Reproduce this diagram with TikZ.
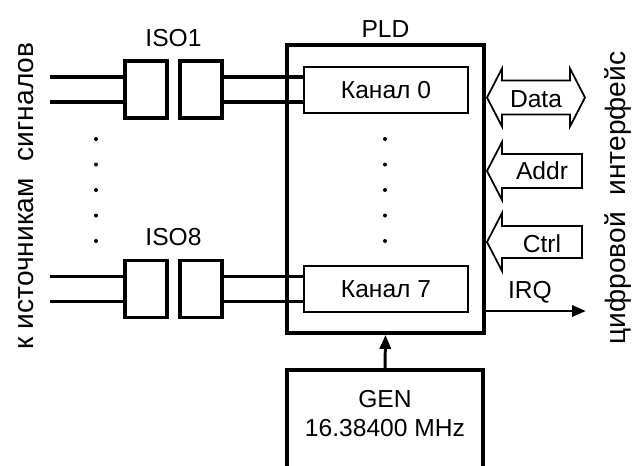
\documentclass[tikz,border=0pt]{standalone}
\usepackage{fontspec}
\setmainfont{Liberation Sans}
\usepackage{tikz}
\usetikzlibrary{arrows.meta,calc,positioning}

\begin{document}
\begin{tikzpicture}[every node/.style={font=\fontsize{14}{16}\selectfont}]
  \tikzset{
    isobox/.style={draw, line width=1.8pt, minimum width=0.84cm, minimum height=1.14cm},
    chanbox/.style={draw, line width=1pt, fill=white, minimum width=3.28cm, minimum height=0.92cm},
    sigline/.style={line width=2.2pt},
    busarrow/.style={draw, line width=1pt, line join=miter},
    outarrow/.style={line width=1.7pt, -{Triangle[length=0.28cm, width=0.22cm]}},
    sidetext/.style={rotate=90, font=\fontsize{16}{18}\selectfont}
  }
  \useasboundingbox (0,0) rectangle (12.72,-9.32);
  % main blocks
  \node[draw, line width=2.2pt, minimum width=3.94cm, minimum height=5.76cm] (pld) at (7.71,-3.78) {};
  \node[above=0.1cm of pld, inner sep=0pt] (pldlbl) {PLD};
  \node[chanbox] (kan0) at (7.72,-1.80) {Канал 0};
  \node[chanbox] (kan7) at (7.72,-5.78) {Канал 7};
  \node[minimum width=3.92cm, minimum height=1.74cm, align=center] (gen) at (7.70,-8.27) {GEN\\16.38400 MHz};
  \coordinate (genbot) at (7.70,-9.40);
  \draw[line width=2.2pt] (gen.north west |- genbot) -- (gen.north west) -- (gen.north east) -- (gen.north east |- genbot);
  % isolators
  \node[isobox] (iso1a) at (2.92,-1.79) {};
  \node[isobox] (iso1b) at (4.02,-1.79) {};
  \node[isobox] (iso8a) at (2.92,-5.78) {};
  \node[isobox] (iso8b) at (4.02,-5.78) {};
  \node (iso1) at (3.47,-0.76) {ISO1};
  \node (iso8) at (3.47,-4.74) {ISO8};
  % signal lines
  \foreach \k/\dy in {a/0.25,b/-0.25} {
    \coordinate (in1\k) at (1.0,-1.79+\dy);
    \coordinate (in8\k) at (1.0,-5.78+\dy);
    \draw[sigline] (in1\k) -- (in1\k -| iso1a.west);
    \draw[sigline] (iso1b.east |- in1\k) -- (kan0.west |- in1\k);
    \draw[sigline] (in8\k) -- (in8\k -| iso8a.west);
    \draw[sigline] (iso8b.east |- in8\k) -- (kan7.west |- in8\k);
  }
  % dots
  \foreach \k in {0,...,4} {
    \fill (1.92,-2.78-0.51*\k) circle (0.04);
    \fill (7.70,-2.78-0.51*\k) circle (0.04);
  }
  % bus arrows
  \draw[busarrow] (9.74,-1.95) -- (10.04,-1.37) -- (10.04,-1.61) -- (11.40,-1.61) -- (11.40,-1.37)
    -- (11.70,-1.95) -- (11.40,-2.53) -- (11.40,-2.29) -- (10.04,-2.29) -- (10.04,-2.53) -- cycle;
  \node (data) at (10.72,-1.98) {Data};
  \draw[busarrow] (9.74,-3.42) -- (10.04,-2.84) -- (10.04,-3.08) -- (11.64,-3.08) -- (11.64,-3.76)
    -- (10.04,-3.76) -- (10.04,-4.00) -- cycle;
  \node (addr) at (10.84,-3.42) {Addr};
  \draw[busarrow] (9.74,-4.84) -- (10.04,-4.26) -- (10.04,-4.52) -- (11.64,-4.52) -- (11.64,-5.16)
    -- (10.04,-5.16) -- (10.04,-5.42) -- cycle;
  \node (ctrl) at (10.84,-4.88) {Ctrl};
  % outputs
  \coordinate (irqend) at (11.72,-6.22);
  \draw[outarrow] (pld.east |- irqend) -- (irqend);
  \node (irq) at (10.60,-5.84) {IRQ};
  \draw[outarrow] (gen.north) -- (pld.south);
  % side captions
  \node[sidetext] (src) at (0.52,-3.92) {к источникам\hspace{0.6em}сигналов};
  \node[sidetext] (bus) at (12.36,-3.96) {цифровой\hspace{0.6em}интерфейс};
\end{tikzpicture}
\end{document}
